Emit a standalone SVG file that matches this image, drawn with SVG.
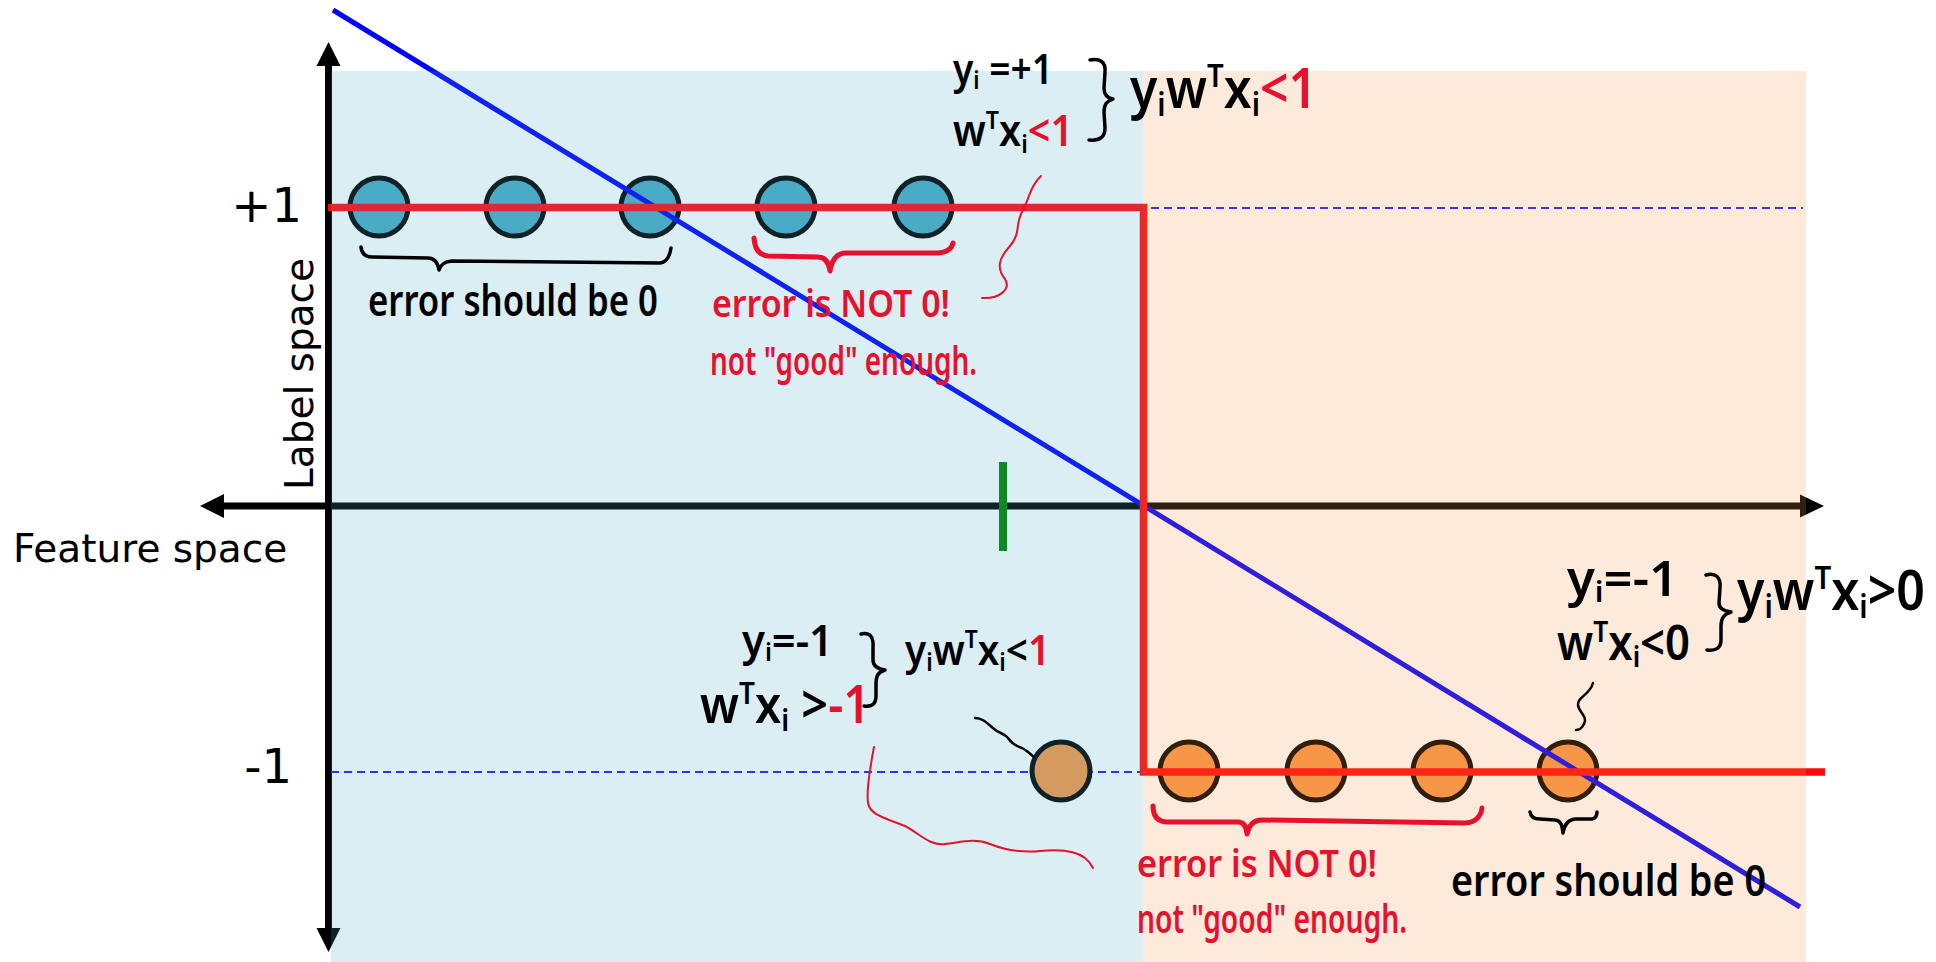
<svg xmlns="http://www.w3.org/2000/svg" width="1936" height="962" viewBox="0 0 1936 962">
<defs>
<style>
.ax{font-family:"DejaVu Sans",sans-serif;fill:#000}
.hd{font-family:"Noto Sans","DejaVu Sans",sans-serif;font-weight:600;fill:#000}
.rd{fill:#e8112d}
.bc{fill:#4aacc6;stroke:#000;stroke-width:5}
.oc{fill:#f79646;stroke:#000;stroke-width:5}
.dash{stroke:#1a1aff;stroke-width:2;stroke-dasharray:8 5;fill:none}
.brk{fill:none;stroke:#000;stroke-width:3.5;stroke-linecap:round;stroke-linejoin:round}
.brr{fill:none;stroke:#e8112d;stroke-width:5;stroke-linecap:round;stroke-linejoin:round}
.sqb{fill:none;stroke:#000;stroke-width:2.5;stroke-linecap:round}
.sqr{fill:none;stroke:#e8112d;stroke-width:2;stroke-linecap:round}
</style>
</defs>
<rect width="1936" height="962" fill="#fff"/>

<g id="axes">
<line x1="328.5" y1="62" x2="328.5" y2="932" stroke="#000" stroke-width="7"/>
<polygon points="328.5,42 316.5,66 340.5,66" fill="#000"/>
<polygon points="328.5,952 316.5,928 340.5,928" fill="#000"/>
<line x1="220" y1="506" x2="1804" y2="506" stroke="#000" stroke-width="7"/>
<polygon points="200,506 224,494 224,518" fill="#000"/>
<polygon points="1824,506 1800,494.5 1800,517.5" fill="#000"/>
</g>

<g id="margins">
<line class="dash" x1="1151" y1="208" x2="1803" y2="208"/>
<line class="dash" x1="331" y1="772" x2="1140" y2="772"/>
<line x1="1003" y1="462" x2="1003" y2="551" stroke="#008000" stroke-width="8"/>
</g>

<g id="node-pos-1"><circle class="bc" cx="379" cy="207" r="29"/></g>
<g id="node-pos-2"><circle class="bc" cx="515" cy="207" r="29"/></g>
<g id="node-pos-3"><circle class="bc" cx="650" cy="207" r="29"/></g>
<g id="node-pos-4"><circle class="bc" cx="786" cy="207" r="29"/></g>
<g id="node-pos-5"><circle class="bc" cx="923" cy="207" r="29"/></g>
<g id="node-neg-0"><circle class="oc" cx="1061" cy="771" r="29"/></g>
<g id="node-neg-1"><circle class="oc" cx="1189" cy="771" r="29"/></g>
<g id="node-neg-2"><circle class="oc" cx="1316" cy="771" r="29"/></g>
<g id="node-neg-3"><circle class="oc" cx="1442" cy="771" r="29"/></g>
<g id="node-neg-4"><circle class="oc" cx="1568" cy="771" r="29"/></g>

<g id="classifier">
<line x1="333" y1="10" x2="1800" y2="907" stroke="#0000ff" stroke-width="5"/>
<polyline points="328,207.5 1143.5,207.5 1143.5,772 1825,772" fill="none" stroke="#ff0a0a" stroke-width="7.5"/>
</g>

<g id="regions">
<rect x="331" y="71" width="812" height="891" fill="#4bacc6" fill-opacity="0.2"/>
<rect x="1143" y="71" width="663" height="891" fill="#f79646" fill-opacity="0.2"/>
</g>

<g id="connectors">
<path class="brk" d="M361,247 Q362,257 372,257 L428,258 Q437,258 439,270 Q441,262 452,261 L660,263 Q669,262 671,248"/>
<path class="brr" d="M754,238 Q755,255 768,256 L818,257 Q828,257 830,271 Q833,253 846,253 L938,253 Q951,252 953,243"/>
<path class="sqr" d="M1041,176 C1030,186 1029,200 1022,212 C1015,225 1021,233 1010,246 C999,258 996,268 1005,279 C1011,289 1000,299 982,298"/>
<path class="brk" d="M1090,60 C1100,58 1106,62 1105,72 L1104,88 C1104,95 1107,98 1113,99 C1107,101 1104,104 1104,112 L1105,128 C1105,137 1100,141 1089,140"/>
<path class="brk" d="M861,634 C870,632 874,637 873,648 L873,660 C873,666 878,669 885,670 C878,672 876,676 876,684 L876,696 C876,704 872,707 864,706"/>
<path class="sqb" d="M975,718 C983,718 988,724 994,729 C1000,734 1004,733 1008,738 C1012,744 1016,746 1022,748 C1028,751 1030,754 1034,757"/>
<path class="sqr" d="M874,747 C870,768 866,790 868,803 C870,815 885,818 905,826 C920,834 930,846 945,844 C962,842 975,838 990,844 C1005,850 1020,853 1040,851 C1060,849 1075,850 1085,858 C1090,862 1092,866 1093,868"/>
<path class="brr" d="M1153,806 Q1153,822 1168,822 L1238,822 Q1246,822 1247,834 Q1250,820 1262,820 L1465,823 Q1480,822 1482,808"/>
<path class="brk" d="M1706,575 C1716,572 1721,578 1720,588 L1719,603 C1719,609 1724,611 1731,612 C1724,614 1721,618 1721,626 L1721,640 C1721,648 1716,651 1707,650"/>
<path class="sqb" d="M1593,683 C1590,695 1577,697 1578,705 C1579,713 1588,716 1584,724 C1582,728 1580,730 1576,730"/>
<path class="brk" d="M1530,812 Q1531,819 1540,819 L1555,820 Q1562,820 1563,833 Q1565,820 1575,819 L1592,819 Q1597,818 1597,812"/>
</g>

<g id="axis-labels">
<text class="ax" x="302" y="222" font-size="48" text-anchor="end">+1</text>
<text class="ax" x="292" y="783" font-size="48" text-anchor="end">-1</text>
<text class="ax" x="13" y="562" font-size="39">Feature space</text>
<text class="ax" transform="translate(313,490) rotate(-90)" font-size="39">Label space</text>
</g>

<g id="note-pos">
<text class="hd" x="953" y="84" font-size="42" textLength="100" lengthAdjust="spacingAndGlyphs">y<tspan font-size="25" dy="5">i</tspan><tspan dy="-5"> =+1</tspan></text>
<text class="hd" x="953" y="146" font-size="44" textLength="120" lengthAdjust="spacingAndGlyphs">w<tspan font-size="26" dy="-17">T</tspan><tspan dy="17">x</tspan><tspan font-size="26" dy="7">i</tspan><tspan class="rd" dy="-7">&lt;1</tspan></text>
<text class="hd" x="1130" y="108" font-size="56" textLength="187" lengthAdjust="spacingAndGlyphs">y<tspan font-size="33" dy="8">i</tspan><tspan dy="-8">w</tspan><tspan font-size="33" dy="-21">T</tspan><tspan dy="21">x</tspan><tspan font-size="33" dy="8">i</tspan><tspan class="rd" dy="-8">&lt;1</tspan></text>
<text class="hd" x="368" y="316" font-size="44" textLength="290" lengthAdjust="spacingAndGlyphs">error should be 0</text>
<text class="hd rd" x="712" y="317" font-size="37" textLength="238" lengthAdjust="spacingAndGlyphs">error is NOT 0!</text>
<text class="hd rd" x="710" y="375" font-size="40" textLength="267" lengthAdjust="spacingAndGlyphs">not "good" enough.</text>
</g>

<g id="note-neg-left">
<text class="hd" x="742" y="656" font-size="44" textLength="91" lengthAdjust="spacingAndGlyphs">y<tspan font-size="26" dy="5">i</tspan><tspan dy="-5">=-1</tspan></text>
<text class="hd" x="700" y="723" font-size="52" textLength="170" lengthAdjust="spacingAndGlyphs">w<tspan font-size="31" dy="-19">T</tspan><tspan dy="19">x</tspan><tspan font-size="31" dy="8">i</tspan><tspan dy="-8"> &gt;</tspan><tspan class="rd">-1</tspan></text>
<text class="hd" x="905" y="665" font-size="42" textLength="145" lengthAdjust="spacingAndGlyphs">y<tspan font-size="25" dy="6">i</tspan><tspan dy="-6">w</tspan><tspan font-size="25" dy="-17">T</tspan><tspan dy="17">x</tspan><tspan font-size="25" dy="6">i</tspan><tspan dy="-6">&lt;</tspan><tspan class="rd">1</tspan></text>
<text class="hd rd" x="1137" y="877" font-size="37" textLength="240" lengthAdjust="spacingAndGlyphs">error is NOT 0!</text>
<text class="hd rd" x="1137" y="933" font-size="40" textLength="270" lengthAdjust="spacingAndGlyphs">not "good" enough.</text>
</g>

<g id="note-neg-right">
<text class="hd" x="1567" y="596" font-size="48" textLength="111" lengthAdjust="spacingAndGlyphs">y<tspan font-size="29" dy="6">i</tspan><tspan dy="-6">=-1</tspan></text>
<text class="hd" x="1557" y="660" font-size="48" textLength="133" lengthAdjust="spacingAndGlyphs">w<tspan font-size="29" dy="-18">T</tspan><tspan dy="18">x</tspan><tspan font-size="29" dy="7">i</tspan><tspan dy="-7">&lt;0</tspan></text>
<text class="hd" x="1737" y="610" font-size="56" textLength="188" lengthAdjust="spacingAndGlyphs">y<tspan font-size="33" dy="8">i</tspan><tspan dy="-8">w</tspan><tspan font-size="33" dy="-21">T</tspan><tspan dy="21">x</tspan><tspan font-size="33" dy="8">i</tspan><tspan dy="-8">&gt;0</tspan></text>
<text class="hd" x="1451" y="896" font-size="44" textLength="315" lengthAdjust="spacingAndGlyphs">error should be 0</text>
</g>
</svg>
